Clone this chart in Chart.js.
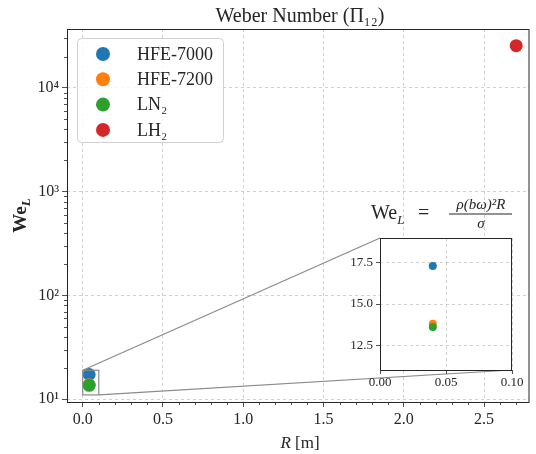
<!DOCTYPE html>
<html>
<head>
<meta charset="utf-8">
<script src="https://cdn.jsdelivr.net/npm/chart.js@4.4.0/dist/chart.umd.min.js"></script>
<style>
  body { margin: 0; background: #fff; }
  #wrap { position: relative; width: 536px; height: 454px; }
  #main { position: absolute; left: 0; top: 0; }
  #inset { position: absolute; left: 330px; top: 232px; }
</style>
</head>
<body>
<div id="wrap">
  <canvas id="main" width="536" height="454"></canvas>
  <canvas id="inset" width="200" height="160"></canvas>
</div>
<script>
// data
const fluids = ['HFE-7000', 'HFE-7200', 'LN₂', 'LH₂'];
const fluidColors = ['#1f77b4', '#ff7f0e', '#2ca02c', '#d62728'];
const radiusR = [0.04, 0.04, 0.04, 2.7];
const weberL = [17.3, 13.8, 13.6, 25500];

// axes
const xMajorTicks = [0, 0.5, 1.0, 1.5, 2.0, 2.5];
const xTickLabels = ['0.0', '0.5', '1.0', '1.5', '2.0', '2.5'];
const yMajorTicks = [10, 100, 1000, 10000];
const yTickLabels = ['10¹', '10²', '10³', '10⁴'];
const xLimits = [-0.098, 2.783];
const yLimits = [9.4, 36900];

// inset
const insetXTicks = [0, 0.05, 0.1];
const insetXLabels = ['0.00', '0.05', '0.10'];
const insetYTicks = [12.5, 15, 17.5];
const insetYLabels = ['12.5', '15.0', '17.5'];
const zoomX = [0, 0.1];
const zoomY = [11, 19];

const SERIF = "'Liberation Serif', 'DejaVu Serif', serif";
const TEXT = '#262626';
const GRID = '#c4c4c4';

// minor tick positions (tick marks only, no grid)
const xMinor = [];
for (let k = 1; k <= 27; k++) if (k % 5 !== 0) xMinor.push(k / 10);
const yMinor = [];
for (let e = 0; e <= 4; e++) for (let m = 2; m <= 9; m++) {
    const v = m * Math.pow(10, e);
    if (v > yLimits[0] && v < yLimits[1]) yMinor.push(v);
}

// later datasets drawn on top, like matplotlib
const makeDatasets = (r) => fluids.map((name, i) => ({
    label: name,
    data: [{ x: radiusR[i], y: weberL[i] }],
    backgroundColor: fluidColors[i],
    borderColor: fluidColors[i],
    borderWidth: 0,
    pointRadius: r,
    pointHoverRadius: r,
    order: fluids.length - i,
    clip: 0,
}));

// no extra room for overflowing tick labels
const noPadX = (h) => s => { s.height = h; s.paddingLeft = 0; s.paddingRight = 0; };
const noPadY = (w) => s => { s.width = w; s.paddingTop = 0; s.paddingBottom = 0; };

const frame = {
    id: 'frame',
    beforeDraw(chart) {
        const a = chart.chartArea, ctx = chart.ctx;
        ctx.save();
        ctx.fillStyle = '#fff';
        ctx.fillRect(a.left, a.top, a.right - a.left, a.bottom - a.top);
        ctx.restore();
    },
    afterDatasetsDraw(chart) {
        const a = chart.chartArea, ctx = chart.ctx;
        ctx.save();
        ctx.strokeStyle = '#262626';
        ctx.lineWidth = 1;
        ctx.strokeRect(a.left + 0.5, a.top + 0.5, a.right - a.left - 1, a.bottom - a.top);
        ctx.restore();
    }
};

// ---------- inset ----------
const insetChart = new Chart(document.getElementById('inset'), {
    type: 'scatter',
    data: { datasets: makeDatasets(4) },
    options: {
        responsive: false,
        animation: false,
        events: [],
        layout: { padding: { top: 6, right: 18, left: 0, bottom: 0 } },
        plugins: { legend: { display: false }, tooltip: { enabled: false } },
        scales: {
            x: {
                type: 'linear', min: zoomX[0], max: zoomX[1],
                afterBuildTicks: s => { s.ticks = insetXTicks.map(v => ({ value: v })); },
                afterFit: noPadX(22),
                ticks: { callback: (v, i) => insetXLabels[i], color: TEXT, font: { family: SERIF, size: 13 }, maxRotation: 0, autoSkip: false, padding: 1 },
                grid: { color: GRID, lineWidth: 0.8, tickColor: TEXT, tickLength: 4 },
                border: { display: false, dash: [3, 3] }
            },
            y: {
                type: 'linear', min: zoomY[0], max: zoomY[1],
                afterBuildTicks: s => { s.ticks = insetYTicks.map(v => ({ value: v })); },
                afterFit: noPadY(50),
                ticks: { callback: (v, i) => insetYLabels[i], color: TEXT, font: { family: SERIF, size: 13 }, autoSkip: false, padding: 3 },
                grid: { color: GRID, lineWidth: 0.8, tickColor: TEXT, tickLength: 4 },
                border: { display: false, dash: [3, 3] }
            }
        }
    },
    plugins: [frame]
});

// ---------- main ----------
const insetCanvas = document.getElementById('inset');

const decorations = {
    id: 'decorations',
    afterDatasetsDraw(chart) {
        const ctx = chart.ctx, xs = chart.scales.x, ys = chart.scales.y;
        // zoom rectangle + connectors to the inset
        const rx0 = xs.getPixelForValue(zoomX[0]), rx1 = xs.getPixelForValue(zoomX[1]);
        const ry0 = ys.getPixelForValue(zoomY[1]), ry1 = ys.getPixelForValue(zoomY[0]);
        const ia = insetChart.chartArea;
        const ox = insetCanvas.offsetLeft, oy = insetCanvas.offsetTop;
        ctx.save();
        ctx.strokeStyle = '#8a8a8a';
        ctx.lineWidth = 1.2;
        ctx.strokeRect(rx0, ry0, rx1 - rx0, ry1 - ry0);
        ctx.beginPath();
        ctx.moveTo(rx0, ry0); ctx.lineTo(ox + ia.left, oy + ia.top);
        ctx.moveTo(rx1, ry1); ctx.lineTo(ox + ia.right, oy + ia.bottom);
        ctx.stroke();
        ctx.restore();
    },
    afterDraw(chart) {
        const ctx = chart.ctx, a = chart.chartArea, xs = chart.scales.x, ys = chart.scales.y;
        ctx.save();
        // minor ticks
        ctx.strokeStyle = TEXT;
        ctx.lineWidth = 0.8;
        ctx.beginPath();
        xMinor.forEach(v => { const p = Math.round(xs.getPixelForValue(v)) + 0.5; ctx.moveTo(p, a.bottom); ctx.lineTo(p, a.bottom + 3); });
        yMinor.forEach(v => { const p = Math.round(ys.getPixelForValue(v)) + 0.5; ctx.moveTo(a.left - 3, p); ctx.lineTo(a.left, p); });
        ctx.stroke();

        ctx.fillStyle = TEXT;
        // title
        ctx.font = `20px ${SERIF}`;
        ctx.textAlign = 'center';
        ctx.textBaseline = 'alphabetic';
        ctx.fillText('Weber Number (Π₁₂)', 300, 22);

        // x label: R [m]
        ctx.font = `italic 17px ${SERIF}`;
        const wR = ctx.measureText('R').width;
        ctx.font = `17px ${SERIF}`;
        const wM = ctx.measureText(' [m]').width;
        let x0 = 300 - (wR + wM) / 2;
        ctx.textAlign = 'left';
        ctx.font = `italic 17px ${SERIF}`;
        ctx.fillText('R', x0, 448);
        ctx.font = `17px ${SERIF}`;
        ctx.fillText(' [m]', x0 + wR, 448);

        // y label: We_L
        ctx.translate(26, (a.top + a.bottom) / 2);
        ctx.rotate(-Math.PI / 2);
        ctx.font = `bold 19px ${SERIF}`;
        const wWe = ctx.measureText('We').width;
        ctx.font = `italic bold 13px ${SERIF}`;
        const wL = ctx.measureText('L').width;
        x0 = -(wWe + wL) / 2;
        ctx.font = `bold 19px ${SERIF}`;
        ctx.fillText('We', x0, 0);
        ctx.font = `italic bold 13px ${SERIF}`;
        ctx.fillText('L', x0 + wWe, 4);
        ctx.setTransform(1, 0, 0, 1, 0, 0);

        // formula
        ctx.font = `20px ${SERIF}`;
        ctx.fillText('We', 371, 219);
        const wWe2 = ctx.measureText('We').width;
        ctx.font = `italic 13px ${SERIF}`;
        ctx.fillText('L', 371 + wWe2, 224);
        ctx.font = `20px ${SERIF}`;
        ctx.fillText('=', 418, 219);
        ctx.textAlign = 'center';
        ctx.font = `italic 15px ${SERIF}`;
        ctx.fillText('ρ(bω)²R', 481, 209);
        ctx.fillText('σ', 481, 228);
        ctx.fillRect(449, 213.5, 63, 1);

        // legend
        const lx = 77, ly = 38, lw = 146, lh = 104;
        ctx.fillStyle = 'rgba(255,255,255,0.85)';
        ctx.strokeStyle = '#d0d0d0';
        ctx.lineWidth = 1;
        ctx.beginPath();
        ctx.roundRect(lx + 0.5, ly + 0.5, lw, lh, 4);
        ctx.fill();
        ctx.stroke();
        ctx.textAlign = 'left';
        ctx.textBaseline = 'middle';
        ctx.font = `18px ${SERIF}`;
        chart.data.datasets.forEach((ds, i) => {
            const yy = 54 + i * 25.3;
            ctx.fillStyle = ds.backgroundColor;
            ctx.beginPath();
            ctx.arc(103, yy, 7, 0, Math.PI * 2);
            ctx.fill();
            ctx.fillStyle = TEXT;
            ctx.fillText(ds.label, 137, yy + 1);
        });
        ctx.restore();
    }
};

const mainChart = new Chart(document.getElementById('main'), {
    type: 'scatter',
    data: { datasets: makeDatasets(6.5) },
    options: {
        responsive: false,
        animation: false,
        events: [],
        layout: { padding: { top: 29, right: 0, left: 0, bottom: 0 } },
        plugins: { legend: { display: false }, tooltip: { enabled: false } },
        scales: {
            x: {
                type: 'linear', min: xLimits[0], max: xLimits[1],
                afterBuildTicks: s => { s.ticks = xMajorTicks.map(v => ({ value: v })); },
                afterFit: noPadX(52),
                ticks: { callback: (v, i) => xTickLabels[i], color: TEXT, font: { family: SERIF, size: 16 }, maxRotation: 0, autoSkip: false, padding: 3 },
                grid: { color: GRID, lineWidth: 0.8, tickColor: TEXT, tickLength: 5 },
                border: { display: false, dash: [3, 3] }
            },
            y: {
                type: 'logarithmic', min: yLimits[0], max: yLimits[1],
                afterBuildTicks: s => { s.ticks = yMajorTicks.map(v => ({ value: v })); },
                afterFit: noPadY(67),
                ticks: { callback: (v, i) => yTickLabels[i], color: TEXT, font: { family: SERIF, size: 16 }, autoSkip: false, padding: 3 },
                grid: { color: GRID, lineWidth: 0.8, tickColor: TEXT, tickLength: 5 },
                border: { display: false, dash: [3, 3] }
            }
        }
    },
    plugins: [frame, decorations]
});
</script>
</body>
</html>
